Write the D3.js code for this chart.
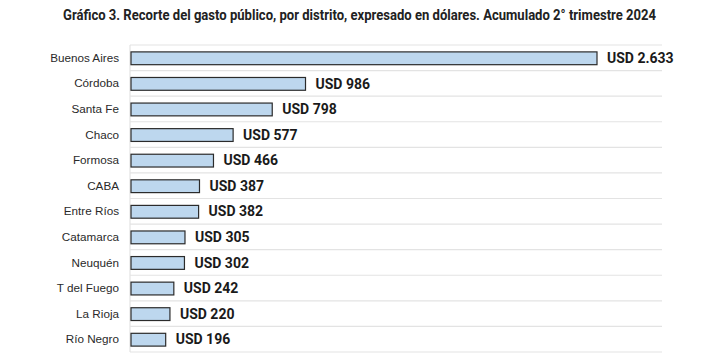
<!DOCTYPE html>
<html>
<head>
<meta charset="utf-8">
<script src="https://cdn.jsdelivr.net/npm/d3@7"></script>
<style>
  body { margin: 0; background: #fff; }
</style>
</head>
<body>
<div id="canvas"></div>
<script>
"use strict";

let svgWidth = 728;
let svgHeight = 364;

// Data
let districts = ["Buenos Aires", "Córdoba", "Santa Fe", "Chaco", "Formosa", "CABA",
    "Entre Ríos", "Catamarca", "Neuquén", "T del Fuego", "La Rioja", "Río Negro"];
let values = [2633, 986, 798, 577, 466, 387, 382, 305, 302, 242, 220, 196];
let valueLabels = ["USD 2.633", "USD 986", "USD 798", "USD 577", "USD 466", "USD 387",
    "USD 382", "USD 305", "USD 302", "USD 242", "USD 220", "USD 196"];

let dataset = districts.map((d, i) => ({ name: d, value: values[i], label: valueLabels[i] }));

let plotLeft = 130, plotTop = 45, plotBottom = 352, gridRight = 662;

let svg = d3.select("#canvas").append("svg")
    .attr("width", svgWidth)
    .attr("height", svgHeight)
    .style("font-family", "'Liberation Sans', Arial, sans-serif");

// Title
svg.append("text")
    .attr("x", 63)
    .attr("y", 20)
    .attr("font-family", "'Liberation Sans Narrow', 'Roboto', sans-serif")
    .attr("font-weight", "bold")
    .attr("font-size", 14.5)
    .attr("fill", "#222")
    .attr("textLength", 593)
    .attr("lengthAdjust", "spacingAndGlyphs")
    .text("Gráfico 3. Recorte del gasto público, por distrito, expresado en dólares. Acumulado 2° trimestre 2024");

// Scales
let xScale = d3.scaleLinear()
    .domain([0, 2633])
    .range([plotLeft + 1, 597]);

let yScale = d3.scaleBand()
    .domain(districts)
    .range([plotTop, plotBottom])
    .paddingInner(0.5)
    .paddingOuter(0.25);

let step = yScale.step();

// Horizontal separators
svg.append("g")
    .selectAll("line")
    .data(d3.range(districts.length + 1))
    .join("line")
    .attr("x1", plotLeft)
    .attr("x2", gridRight)
    .attr("y1", i => plotTop + i * step)
    .attr("y2", i => plotTop + i * step)
    .attr("stroke", "#e3e3e3")
    .attr("stroke-width", 1.2);

// Vertical axis line
svg.append("line")
    .attr("x1", plotLeft)
    .attr("x2", plotLeft)
    .attr("y1", plotTop)
    .attr("y2", plotBottom)
    .attr("stroke", "#e3e3e3")
    .attr("stroke-width", 1.2);

// Bars
svg.selectAll("rect.bar")
    .data(dataset)
    .join("rect")
    .attr("class", "bar")
    .attr("x", xScale(0))
    .attr("y", d => yScale(d.name) + 0.5)
    .attr("width", d => xScale(d.value) - xScale(0))
    .attr("height", yScale.bandwidth())
    .attr("fill", "#bdd7ee")
    .attr("stroke", "#2b2b2b")
    .attr("stroke-width", 1.2);

// Category labels
svg.selectAll("text.cat")
    .data(dataset)
    .join("text")
    .attr("class", "cat")
    .attr("x", 119)
    .attr("y", d => yScale(d.name) + yScale.bandwidth() / 2 + 1)
    .attr("dominant-baseline", "middle")
    .attr("text-anchor", "end")
    .attr("font-size", 11.7)
    .attr("fill", "#2a2a2a")
    .text(d => d.name);

// Value labels
svg.selectAll("text.val")
    .data(dataset)
    .join("text")
    .attr("class", "val")
    .attr("x", d => xScale(d.value) + 10)
    .attr("y", d => yScale(d.name) + yScale.bandwidth() / 2 + 1.5)
    .attr("dominant-baseline", "middle")
    .attr("font-family", "Roboto, sans-serif")
    .attr("font-size", 14)
    .attr("font-weight", "bold")
    .attr("fill", "#1a1a1a")
    .text(d => d.label);
</script>
</body>
</html>
